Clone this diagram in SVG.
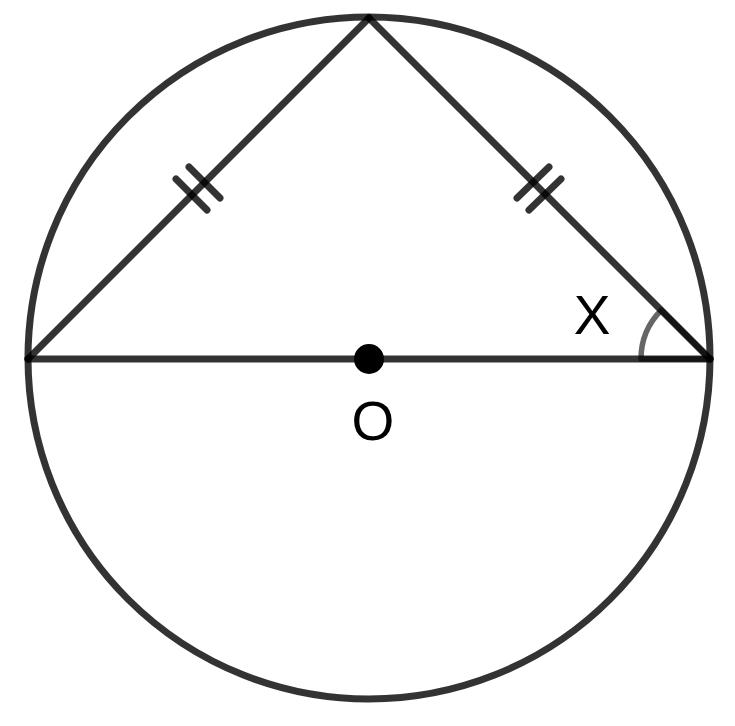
<svg xmlns="http://www.w3.org/2000/svg" width="735" height="726" viewBox="0 0 735 726">
<style>
.ln{fill:none;stroke:#000;stroke-opacity:0.8;stroke-width:7;stroke-linecap:round;stroke-linejoin:round}
.tk{fill:none;stroke:#000;stroke-opacity:0.8;stroke-width:7;stroke-linecap:round}
.ang{fill:none;stroke:#000;stroke-opacity:0.6;stroke-width:5.5;stroke-linejoin:round}
.lbl{font-family:"Liberation Sans",Arial,sans-serif;font-size:55px;fill:#000;text-anchor:middle}
</style>
<rect width="735" height="726" fill="#fff"/>
<g id="circle"><circle class="ln" cx="369" cy="358" r="341"/></g>
<g id="connectors">
<line class="ln" x1="28" y1="359" x2="369" y2="18"/>
<line class="ln" x1="369" y1="18" x2="710" y2="359"/>
<line class="ln" x1="28" y1="359" x2="710" y2="359"/>
<line class="tk" x1="176" y1="179" x2="207" y2="210"/>
<line class="tk" x1="189" y1="167" x2="220" y2="198"/>
<line class="tk" x1="517" y1="198" x2="549" y2="167"/>
<line class="tk" x1="529" y1="210" x2="561" y2="179"/>
<path class="ang" d="M710,359 L641,359 A69,69 0 0 1 661.2,310.2 Z"/>
</g>
<g id="center"><circle cx="369" cy="359" r="15" fill="#000"/></g>
<g id="labels">
<text class="lbl" x="373" y="440">O</text>
<text class="lbl" x="592" y="334">X</text>
</g>
</svg>
